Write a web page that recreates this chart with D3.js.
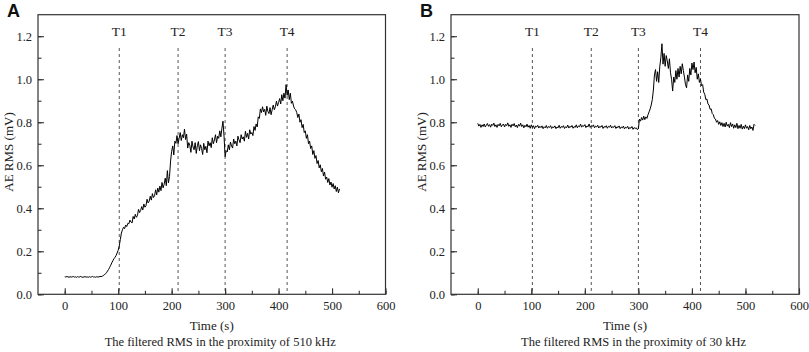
<!DOCTYPE html>
<html>
<head>
<meta charset="utf-8">
<script src="https://cdn.jsdelivr.net/npm/d3@7"></script>
<style>
  html, body { margin: 0; padding: 0; background: #fff; }
  svg { display: block; }
  .tick-label { font-family: "Liberation Serif", "Times New Roman", serif; font-size: 12.5px; fill: #222; }
</style>
</head>
<body>
<div id="chart"></div>
<script>
// sampling interval of the RMS traces (s)
var STEP = 2;

var xTicks = [0, 100, 200, 300, 400, 500, 600];
var yTicks = [0.0, 0.2, 0.4, 0.6, 0.8, 1.0, 1.2];
var markerNames = ['T1', 'T2', 'T3', 'T4'];
var markerTimes = [102, 212, 300, 416];

// filtered RMS near 510 kHz (mV), one value every STEP s from t = 0
var rms510 = [
    0.082, 0.080, 0.083, 0.081, 0.079, 0.082, 0.080, 0.081, 0.083, 0.080,
    0.081, 0.079, 0.082, 0.080, 0.081, 0.083, 0.080, 0.079, 0.081, 0.082,
    0.080, 0.081, 0.079, 0.082, 0.080, 0.081, 0.083, 0.080, 0.081, 0.079,
    0.082, 0.080, 0.081, 0.083, 0.082,
    0.084, 0.087, 0.090, 0.095, 0.100, 0.108, 0.115, 0.125, 0.135, 0.146,
    0.156, 0.165, 0.172, 0.180, 0.192,
    0.205, 0.225, 0.255, 0.285, 0.300, 0.312, 0.305, 0.322, 0.315, 0.330,
    0.328, 0.345, 0.336, 0.332, 0.362, 0.350, 0.372, 0.358, 0.366, 0.395,
    0.380, 0.390, 0.408, 0.392, 0.420, 0.405, 0.412, 0.442, 0.425, 0.433,
    0.456, 0.438, 0.468, 0.450, 0.458, 0.486, 0.462, 0.494, 0.475, 0.503,
    0.482, 0.520, 0.495, 0.512, 0.540, 0.505, 0.575, 0.518, 0.548, 0.620,
    0.665, 0.690, 0.648, 0.712, 0.702, 0.738, 0.700, 0.725, 0.752, 0.715,
    0.742, 0.728, 0.768, 0.720, 0.745, 0.680, 0.705, 0.692, 0.660, 0.712,
    0.685, 0.672, 0.705, 0.655, 0.690, 0.710, 0.668, 0.695, 0.678, 0.650,
    0.702, 0.672, 0.688, 0.658, 0.712, 0.690, 0.705, 0.682, 0.728, 0.700,
    0.718, 0.742, 0.705, 0.735, 0.725, 0.760, 0.732, 0.772, 0.805, 0.735,
    0.640, 0.668, 0.662, 0.695, 0.672, 0.708, 0.690, 0.680, 0.722, 0.700,
    0.712, 0.690, 0.735, 0.718, 0.705, 0.742, 0.722, 0.732, 0.712, 0.758,
    0.730, 0.748, 0.722, 0.765, 0.745, 0.752, 0.738, 0.780, 0.762, 0.792,
    0.778, 0.825, 0.818, 0.862, 0.845, 0.872, 0.848, 0.860, 0.832, 0.875,
    0.850, 0.840, 0.868, 0.835, 0.858, 0.880, 0.858, 0.872, 0.898, 0.875,
    0.892, 0.910, 0.885, 0.928, 0.900, 0.935, 0.912, 0.975, 0.925, 0.950,
    0.905, 0.935, 0.888, 0.898, 0.875, 0.862, 0.858, 0.845, 0.822, 0.838,
    0.800, 0.812, 0.775, 0.790, 0.752, 0.760, 0.725, 0.742, 0.700, 0.712,
    0.678, 0.690, 0.650, 0.668, 0.632, 0.645, 0.608, 0.622, 0.588, 0.602,
    0.570, 0.585, 0.550, 0.568, 0.535, 0.545, 0.520, 0.538, 0.508, 0.522,
    0.498, 0.515, 0.490, 0.505, 0.478, 0.498, 0.472, 0.490
];

// filtered RMS near 30 kHz (mV), one value every STEP s from t = 0
var rms30 = [
    0.795, 0.782, 0.790, 0.776, 0.788, 0.780, 0.792, 0.778, 0.786, 0.794,
    0.781, 0.789, 0.777, 0.791, 0.785, 0.796, 0.780, 0.788, 0.776, 0.790,
    0.783, 0.795, 0.779, 0.787, 0.792, 0.778, 0.790, 0.784, 0.797, 0.781,
    0.788, 0.776, 0.791, 0.783, 0.794, 0.779, 0.787, 0.775, 0.790, 0.782,
    0.796, 0.780, 0.788, 0.774, 0.786, 0.779, 0.791, 0.777, 0.785, 0.772,
    0.788, 0.776, 0.784, 0.770, 0.782, 0.778, 0.786, 0.773, 0.781, 0.775,
    0.783, 0.770, 0.779, 0.774, 0.785, 0.772, 0.780, 0.776, 0.784, 0.771,
    0.779, 0.775, 0.783, 0.770, 0.778, 0.774, 0.786, 0.772, 0.780, 0.776,
    0.784, 0.771, 0.779, 0.775, 0.787, 0.773, 0.781, 0.777, 0.785, 0.772,
    0.780, 0.776, 0.788, 0.774, 0.783, 0.779, 0.791, 0.777, 0.785, 0.781,
    0.789, 0.775, 0.783, 0.779, 0.792, 0.776, 0.784, 0.780, 0.788, 0.774,
    0.782, 0.778, 0.786, 0.773, 0.781, 0.777, 0.785, 0.771, 0.780, 0.776,
    0.784, 0.772, 0.781, 0.777, 0.786, 0.773, 0.780, 0.776, 0.784, 0.771,
    0.779, 0.775, 0.783, 0.770, 0.778, 0.774, 0.782, 0.769, 0.777, 0.773,
    0.781, 0.768, 0.776, 0.772, 0.780, 0.767, 0.775, 0.771, 0.774, 0.766,
    0.770, 0.815, 0.805, 0.822, 0.810, 0.828, 0.812, 0.825, 0.818, 0.835,
    0.848, 0.862, 0.880, 0.905, 0.950, 1.020, 1.045, 0.990, 1.035, 0.985,
    1.060, 1.100, 1.165, 1.070, 1.120, 1.060, 1.110, 1.085, 1.050, 1.095,
    1.030, 1.000, 0.945, 1.010, 0.985, 1.040, 1.000, 1.050, 1.010, 1.060,
    1.025, 1.072, 1.040, 1.010, 0.975, 0.960, 1.020, 0.990, 1.050, 1.020,
    1.075, 1.045, 1.080, 1.030, 1.055, 1.000, 1.025, 0.985, 1.000, 0.970,
    0.975, 0.940, 0.930, 0.905, 0.908, 0.885, 0.880, 0.860, 0.862, 0.840,
    0.835, 0.818, 0.815, 0.800, 0.808, 0.790, 0.802, 0.785, 0.798, 0.780,
    0.795, 0.778, 0.800, 0.782, 0.790, 0.775, 0.798, 0.780, 0.792, 0.772,
    0.788, 0.775, 0.795, 0.770, 0.785, 0.772, 0.790, 0.768, 0.782, 0.770,
    0.788, 0.772, 0.780, 0.765, 0.785, 0.770, 0.778, 0.762, 0.790, 0.785
];

var svg = d3.select('#chart').append('svg')
    .attr('width', 809)
    .attr('height', 352);

var serif = '"Liberation Serif", "Times New Roman", serif';

function drawPanel(letter, values, subtitle, box) {
    var x = d3.scaleLinear().domain([-50, 600]).range([box.left, box.right]);
    var y = d3.scaleLinear().domain([0, 1.3]).range([box.bottom, box.top]);
    var g = svg.append('g');

    // event markers
    markerTimes.forEach(function (t, i) {
        g.append('line')
            .attr('x1', x(t)).attr('x2', x(t))
            .attr('y1', 48).attr('y2', box.bottom)
            .attr('stroke', '#555')
            .attr('stroke-width', 1)
            .attr('stroke-dasharray', '3,3');
        g.append('text')
            .attr('x', x(t))
            .attr('y', 36)
            .attr('text-anchor', 'middle')
            .style('font-family', serif)
            .style('font-size', '13.5px')
            .style('fill', '#222')
            .text(markerNames[i]);
    });

    // trace
    var line = d3.line()
        .x(function (d, i) { return x(i * STEP); })
        .y(function (d) { return y(d); });
    g.append('path')
        .datum(values)
        .attr('d', line)
        .attr('fill', 'none')
        .attr('stroke', '#000')
        .attr('stroke-width', 1)
        .attr('stroke-linejoin', 'round');

    // x axis, ticks pointing inward
    g.append('g')
        .attr('transform', 'translate(0,' + box.bottom + ')')
        .call(d3.axisTop(x).tickValues(d3.range(0, 601, 50)).tickSize(3.5).tickFormat(''))
        .call(function (a) { a.select('.domain').remove(); });
    var xa = g.append('g')
        .attr('transform', 'translate(0,' + box.bottom + ')')
        .call(d3.axisTop(x).tickValues(xTicks).tickSize(6).tickFormat(d3.format('d')));
    xa.select('.domain').remove();
    xa.selectAll('text')
        .attr('class', 'tick-label')
        .attr('y', 15.5)
        .attr('dy', 0);

    // y axis, ticks pointing inward
    g.append('g')
        .attr('transform', 'translate(' + box.left + ',0)')
        .call(d3.axisRight(y).tickValues(d3.range(0, 1.25, 0.1)).tickSize(3.5).tickFormat(''))
        .call(function (a) { a.select('.domain').remove(); });
    var ya = g.append('g')
        .attr('transform', 'translate(' + box.left + ',0)')
        .call(d3.axisRight(y).tickValues(yTicks).tickSize(6).tickFormat(d3.format('.1f')));
    ya.select('.domain').remove();
    ya.selectAll('text')
        .attr('class', 'tick-label')
        .attr('x', -6)
        .attr('text-anchor', 'end');

    g.selectAll('.tick line').attr('stroke', '#333').attr('stroke-width', 1.1);

    // frame
    g.append('rect')
        .attr('x', box.left).attr('y', box.top)
        .attr('width', box.right - box.left)
        .attr('height', box.bottom - box.top)
        .attr('fill', 'none')
        .attr('stroke', '#333')
        .attr('stroke-width', 1.2);

    // labels
    var mid = (box.left + box.right) / 2;
    g.append('text')
        .attr('transform', 'translate(' + (box.left - 25) + ',' + 152 + ') rotate(-90)')
        .attr('text-anchor', 'middle')
        .style('font-family', serif)
        .style('font-size', '13px')
        .style('fill', '#222')
        .text('AE RMS (mV)');
    g.append('text')
        .attr('x', mid).attr('y', 330)
        .attr('text-anchor', 'middle')
        .style('font-family', serif)
        .style('font-size', '13px')
        .style('fill', '#222')
        .text('Time (s)');
    g.append('text')
        .attr('x', mid + 8.5).attr('y', 346)
        .attr('text-anchor', 'middle')
        .style('font-family', serif)
        .style('font-size', '12.5px')
        .style('fill', '#222')
        .text(subtitle);
    g.append('text')
        .attr('x', box.left - 31).attr('y', 17)
        .style('font-family', '"Liberation Sans", Arial, sans-serif')
        .style('font-size', '18px')
        .style('font-weight', 'bold')
        .style('fill', '#111')
        .text(letter);
}

drawPanel('A', rms510, 'The filtered RMS in the proximity of 510 kHz',
    {left: 38, right: 385.5, top: 14.7, bottom: 294.3});
drawPanel('B', rms30, 'The filtered RMS in the proximity of 30 kHz',
    {left: 451, right: 799, top: 14.7, bottom: 294.3});
</script>
</body>
</html>
